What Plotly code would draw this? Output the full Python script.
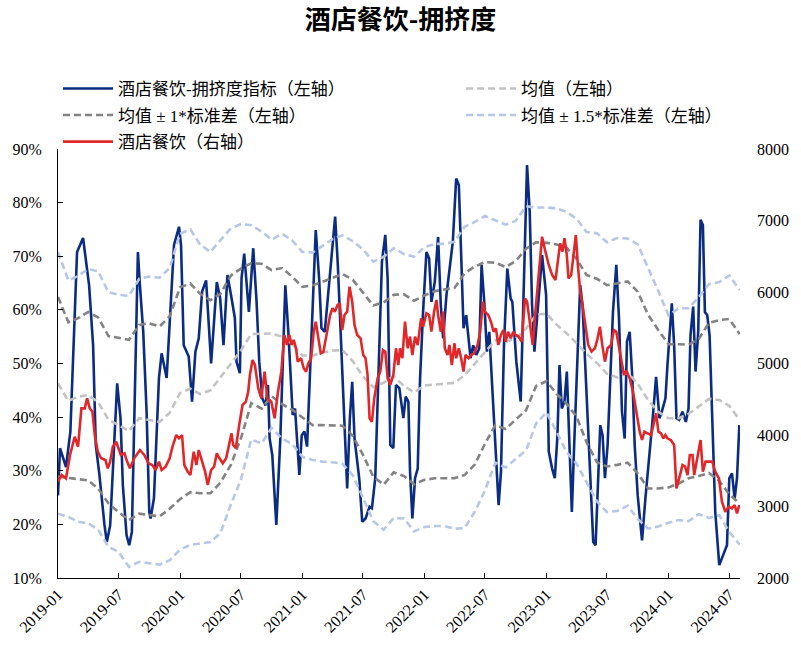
import pandas as pd
import plotly.graph_objects as go

# ---------------- data ----------------
START = pd.Timestamp("2019-01-01")

# 酒店餐饮-拥挤度指标 (left axis, %), x = days since 2019-01-01
blue_day = [0,6,24,37,57,75,93,105,113,124,
            139,146,156,177,187,194,205,213,221,231,
            239,245,255,265,273,277,287,302,310,325,
            337,347,362,368,376,391,401,411,421,431,
            443,458,475,485,495,507,519,529,534,544,
            549,557,571,584,594,602,611,621,628,633,
            641,653,665,680,689,697,702,709,717,722,
            729,737,745,757,765,771,781,788,798,806,
            816,829,837,845,855,865,873,880,887,895,
            901,910,920,932,939,949,959,969,979,986,
            994,1003,1011,1021,1033,1040,1048,1053,1060,1068,
            1076,1083,1092,1102,1110,1117,1127,1137,1145,1152,
            1162,1171,1181,1191,1199,1206,1213,1221,1226,1234,
            1242,1251,1260,1267,1275,1283,1290,1298,1308,1318,
            1325,1334,1344,1354,1359,1371,1384,1391,1397,1403,
            1411,1418,1425,1433,1443,1448,1460,1468,1478,1486,
            1494,1500,1507,1515,1522,1529,1537,1544,1554,1562,
            1569,1577,1586,1594,1601,1608,1616,1622,1629,1636,
            1644,1651,1660,1670,1678,1687,1695,1702,1710,1718,
            1725,1734,1747,1757,1767,1779,1789,1799,1806,1817,
            1823,1836,1843,1850,1858,1868,1878,1886,1892,1900,
            1907,1915,1922,1929,1935,1942,1949,1957,1966,1978,
            1986,2001,2008,2016,2024,2031,2038]
blue_val = [25.4,34.2,30.7,37.3,70.8,73.4,64.6,53.4,34.8,29.2,
            19.9,16.7,19.8,46.3,39.8,27.3,18.0,16.1,18.6,47.3,
            70.8,64.6,55.9,41.0,22.3,21.1,24.9,47.3,51.9,47.3,
            61.5,72.1,75.5,72.1,53.4,51.3,42.9,52.2,54.7,63.4,
            65.5,50.0,65.2,62.2,53.4,66.5,62.2,58.5,50.3,48.2,
            65.9,70.5,59.6,71.5,61.5,50.3,43.5,42.2,46.0,36.0,
            32.9,19.9,36.0,64.6,55.9,47.3,40.4,41.6,34.8,29.2,
            36.6,37.3,34.5,53.4,64.6,74.9,65.9,56.6,55.9,61.5,
            67.1,77.4,68.4,56.6,41.0,26.7,39.8,46.6,36.0,31.0,
            28.6,20.5,21.1,23.3,23.0,28.6,47.2,69.0,74.0,65.9,
            34.8,34.2,46.0,45.4,39.8,43.8,42.9,29.8,21.1,28.6,
            30.4,47.2,59.6,70.8,69.6,61.5,65.2,73.6,60.9,54.7,
            62.8,67.1,72.7,84.5,83.3,70.2,56.6,59.0,55.9,51.0,
            53.4,51.6,52.8,68.4,61.5,52.2,55.9,47.2,36.0,23.6,
            29.8,53.4,67.7,62.1,61.5,50.3,42.9,59.6,75.2,87.0,
            78.3,60.9,52.2,58.4,67.1,70.2,62.8,33.6,30.4,28.6,
            36.6,49.7,41.6,42.9,48.5,37.3,22.3,34.8,53.4,64.6,
            60.9,50.3,36.6,24.8,16.7,16.1,28.6,38.5,36.6,28.6,
            34.8,46.0,59.6,68.4,58.4,41.0,36.0,54.1,55.9,47.2,
            34.8,25.4,17.0,24.8,31.0,39.8,47.5,39.8,41.0,43.5,
            49.7,61.2,53.4,39.8,39.5,41.0,39.1,41.6,55.3,60.6,
            48.5,55.9,76.8,75.8,59.6,59.0,55.3,41.0,22.3,12.4,
            13.6,16.1,28.6,29.5,24.8,28.6,38.5]

# 酒店餐饮 (right axis), x = days since 2019-01-01
red_day = [0,11,24,36,50,60,70,80,87,95,
           103,110,119,129,142,149,156,164,174,181,
           188,199,205,215,228,245,258,271,282,292,
           302,310,322,334,342,354,362,371,378,388,
           396,406,414,421,431,440,448,458,467,475,
           483,493,503,510,519,524,532,542,552,562,
           569,574,582,589,599,608,618,626,638,648,
           658,668,677,685,692,699,705,712,717,727,
           735,742,749,757,765,771,778,786,794,804,
           814,821,828,836,843,850,857,865,872,880,
           887,895,905,913,920,926,932,939,946,956,
           964,972,979,986,994,1003,1011,1018,1023,1030,
           1038,1046,1053,1060,1068,1076,1086,1092,1102,1110,
           1117,1125,1132,1137,1145,1152,1157,1165,1171,1178,
           1186,1191,1199,1206,1213,1219,1228,1236,1245,1255,
           1263,1271,1277,1287,1295,1303,1310,1317,1325,1332,
           1339,1346,1354,1362,1369,1377,1387,1397,1403,1411,
           1420,1428,1438,1448,1458,1468,1478,1488,1495,1502,
           1509,1515,1522,1527,1535,1542,1549,1555,1562,1569,
           1577,1586,1596,1606,1614,1621,1628,1636,1644,1654,
           1663,1670,1677,1685,1693,1700,1710,1720,1729,1740,
           1747,1754,1764,1774,1781,1789,1796,1804,1811,1817,
           1823,1833,1843,1850,1858,1868,1876,1883,1890,1898,
           1903,1909,1915,1922,1929,1937,1947,1957,1966,1977,
           1986,1996,2006,2016,2024,2031,2038]
red_val = [3347,3440,3394,3720,3976,3836,4373,4373,4513,4373,
           4326,4000,3767,3674,3650,3534,3627,3836,3906,3813,
           3720,3743,3650,3534,3674,3790,3720,3604,3580,3510,
           3627,3510,3557,3674,3830,4000,3953,4000,3580,3487,
           3440,3767,3580,3790,3627,3487,3301,3510,3557,3743,
           3674,3604,3674,3836,4023,3860,3814,4140,4420,4466,
           4606,4839,5049,4979,4653,4513,4886,4513,4466,4233,
           4606,4886,5399,5259,5399,5259,5330,5213,5026,5073,
           4933,4886,5003,5073,5445,5585,5352,5143,5166,5445,
           5678,5772,5725,5818,5841,5468,5678,5725,6075,5865,
           5538,5399,5352,5119,5073,4839,4233,4186,4513,4793,
           4886,5189,5166,4793,4700,4839,5213,4979,5213,5073,
           5585,5213,5376,5119,5376,5259,5632,5515,5702,5678,
           5445,5725,5888,5678,5445,5725,5213,5119,5259,4979,
           5283,5073,5213,5073,4886,5119,5073,5119,5143,5259,
           5445,5865,5725,5678,5585,5445,5492,5259,5399,5468,
           5305,5445,5352,5445,5399,5380,5305,5911,5865,5585,
           5259,5725,6284,6774,6564,6378,6238,6168,6424,6681,
           6564,6751,6517,6191,6238,6517,6797,6378,6005,5818,
           5538,5259,5166,5213,5352,5515,5259,5026,5213,5259,
           5468,5445,5259,5026,4839,4900,4793,4606,4326,4046,
           3930,4046,4023,4000,4140,4303,4046,4023,3953,4000,
           3953,3930,3860,3254,3394,3580,3557,3440,3720,3720,
           3440,3580,3720,3930,3487,3627,3627,3627,3487,3394,
           3067,2927,2997,2974,3021,2904,3021]

# band lines (left axis, %), one value per month 2019-01 .. 2024-08
band_months = pd.date_range("2019-01-01", "2024-08-01", freq="MS")
mean_val = [46.3,43.0,43.8,44.1,42.8,39.5,38.5,37.4,39.8,39.4,39.1,40.8,
            44.5,45.3,44.3,45.0,47.5,50.0,52.4,55.5,55.6,55.6,55.0,53.7,
            51.5,51.5,52.0,52.4,52.5,50.4,47.6,45.6,46.4,47.6,45.8,44.6,
            45.9,46.1,46.2,46.4,47.8,49.9,52.1,54.3,54.0,54.7,56.5,59.1,
            59.3,57.2,55.7,53.8,51.8,50.1,48.1,47.4,48.3,46.2,43.2,41.0,
            39.8,39.8,40.6,42.0,43.4,43.2,42.1,39.5]
up1_val = [62.4,57.7,58.4,59.6,58.6,55.1,54.8,54.4,57.2,57.5,56.9,58.8,
           64.2,64.9,63.0,61.8,63.0,66.4,67.7,68.7,68.6,67.4,67.8,66.2,
           64.3,64.6,65.2,65.9,66.7,65.6,63.3,60.8,61.4,62.8,62.9,61.7,
           62.7,63.5,63.8,64.1,66.8,68.1,68.9,68.8,68.0,69.1,71.4,72.6,
           72.5,72.2,71.7,69.5,66.5,65.8,64.6,64.9,65.3,63.4,59.1,56.3,
           53.6,53.6,53.5,54.6,57.6,58.1,58.3,55.5]
lo1_val = [28.9,28.7,28.5,28.2,26.7,23.9,22.3,20.8,22.0,21.8,21.5,22.9,
           24.7,26.0,25.8,25.8,27.8,31.1,36.0,42.6,41.6,43.9,42.4,41.4,
           39.9,38.5,38.5,38.5,38.4,36.5,33.0,28.9,27.4,29.7,29.0,27.5,
           28.3,28.6,28.6,28.6,29.2,31.2,35.0,38.5,37.8,39.5,41.3,45.8,
           46.7,44.3,42.6,40.1,35.3,31.6,30.8,31.1,31.5,29.5,26.7,26.7,
           26.9,27.6,28.6,29.0,29.6,28.1,25.6,23.9]
up15_val = [70.8,65.5,66.3,67.6,67.2,63.3,62.8,62.6,65.8,66.2,66.0,67.8,
            74.2,75.0,72.2,70.8,73.0,75.2,76.0,75.8,74.6,73.1,74.2,73.0,
            70.8,70.7,71.9,73.2,73.9,72.8,71.3,69.0,69.9,71.5,70.4,69.9,
            71.7,72.3,72.3,72.7,75.5,76.4,77.5,76.7,75.9,76.6,79.3,79.1,
            79.1,78.9,78.3,77.0,74.5,74.3,72.6,73.4,73.3,72.2,68.0,63.6,
            59.0,60.3,60.3,62.4,64.8,65.2,66.4,63.7]
lo15_val = [22.0,21.4,20.5,20.2,19.0,15.8,14.9,12.1,13.0,12.8,12.5,13.3,
            15.3,16.2,16.5,16.7,18.4,23.7,28.3,35.8,35.1,38.0,36.0,35.0,
            32.6,32.0,31.7,31.6,31.3,29.1,25.0,20.6,19.0,21.2,21.1,18.7,
            19.5,19.7,19.7,19.2,19.3,22.4,26.3,31.5,30.6,32.1,33.8,38.8,
            40.9,37.2,33.6,31.3,27.9,24.3,22.3,22.5,23.5,21.0,19.2,19.6,
            20.3,20.8,20.6,21.9,21.2,21.7,18.6,16.2]

TITLE = "酒店餐饮-拥挤度"
NAMES = {
    "blue": "酒店餐饮-拥挤度指标（左轴）",
    "mean": "均值（左轴）",
    "sd1": "均值 ± 1*标准差（左轴）",
    "sd15": "均值 ± 1.5*标准差（左轴）",
    "red": "酒店餐饮（右轴）",
}

# ---------------- styling ----------------
NAVY = "#0B2C83"
RED = "#E0282B"
LGRAY = "#C3C3C3"
DGRAY = "#838383"
LBLUE = "#B7C7E5"
SERIF = "Liberation Serif, Noto Sans CJK SC, serif"
DASH = "7px,4px"

blue_x = [START + pd.Timedelta(days=d) for d in blue_day]
red_x = [START + pd.Timedelta(days=d) for d in red_day]

fig = go.Figure()

fig.add_trace(go.Scatter(x=blue_x, y=blue_val, mode="lines", name=NAMES["blue"],
                         line=dict(color=NAVY, width=2.6), legend="legend",
                         legendgroup="g1", legendrank=1))
fig.add_trace(go.Scatter(x=band_months, y=mean_val, mode="lines", name=NAMES["mean"],
                         line=dict(color=LGRAY, width=2.6, dash=DASH), legend="legend2",
                         legendgroup="g2", legendrank=1))
fig.add_trace(go.Scatter(x=band_months, y=up1_val, mode="lines", name=NAMES["sd1"],
                         line=dict(color=DGRAY, width=2.6, dash=DASH), legend="legend",
                         legendgroup="g3", legendrank=2))
fig.add_trace(go.Scatter(x=band_months, y=lo1_val, mode="lines", name=NAMES["sd1"],
                         line=dict(color=DGRAY, width=2.6, dash=DASH), showlegend=False,
                         legendgroup="g3"))
fig.add_trace(go.Scatter(x=band_months, y=up15_val, mode="lines", name=NAMES["sd15"],
                         line=dict(color=LBLUE, width=2.6, dash=DASH), legend="legend2",
                         legendgroup="g4", legendrank=2))
fig.add_trace(go.Scatter(x=band_months, y=lo15_val, mode="lines", name=NAMES["sd15"],
                         line=dict(color=LBLUE, width=2.6, dash=DASH), showlegend=False,
                         legendgroup="g4"))
fig.add_trace(go.Scatter(x=red_x, y=red_val, mode="lines", name=NAMES["red"],
                         line=dict(color=RED, width=2.6), yaxis="y2", legend="legend",
                         legendgroup="g5", legendrank=3))

legend_common = dict(
    orientation="v", yanchor="top", xanchor="left", y=1.182,
    font=dict(family=SERIF, size=17, color="#000000"),
    bgcolor="rgba(0,0,0,0)", tracegroupgap=1.5, traceorder="grouped",
    itemwidth=50,
)

fig.update_layout(
    width=801, height=648,
    margin=dict(l=55, r=58, t=149, b=70),
    paper_bgcolor="white", plot_bgcolor="white",
    title=dict(text="<b>" + TITLE + "</b>", x=0.5, xanchor="center",
               y=0.969, yanchor="middle", yref="container",
               font=dict(family="Noto Sans CJK SC", size=26, color="#000000")),
    legend=dict(x=0.0, **legend_common),
    legend2=dict(x=0.591, **legend_common),
    xaxis=dict(
        type="date", range=["2019-01-01", "2024-08-02"],
        tick0="2019-01-01", dtick="M6", tickformat="%Y-%m", tickangle=-45,
        showline=True, linecolor="#000000", linewidth=1,
        ticks="inside", ticklen=5, tickcolor="#000000",
        showgrid=False, zeroline=False,
        tickfont=dict(family=SERIF, size=16, color="#000000"),
    ),
    yaxis=dict(
        range=[10, 90], dtick=10, ticksuffix="%",
        showline=True, linecolor="#000000", linewidth=1,
        ticks="inside", ticklen=5, tickcolor="#000000",
        showgrid=False, zeroline=False,
        tickfont=dict(family=SERIF, size=16, color="#000000"),
        ticklabelstandoff=12,
    ),
    yaxis2=dict(
        range=[2000, 8000], dtick=1000, overlaying="y", side="right",
        showline=False, ticks="", showgrid=False, zeroline=False,
        tickfont=dict(family=SERIF, size=16, color="#000000"),
        ticklabelstandoff=16,
    ),
)

fig.write_html("out.html",
               config={"displayModeBar": False},
               post_script="document.body.style.margin='0';document.body.style.padding='0';")
